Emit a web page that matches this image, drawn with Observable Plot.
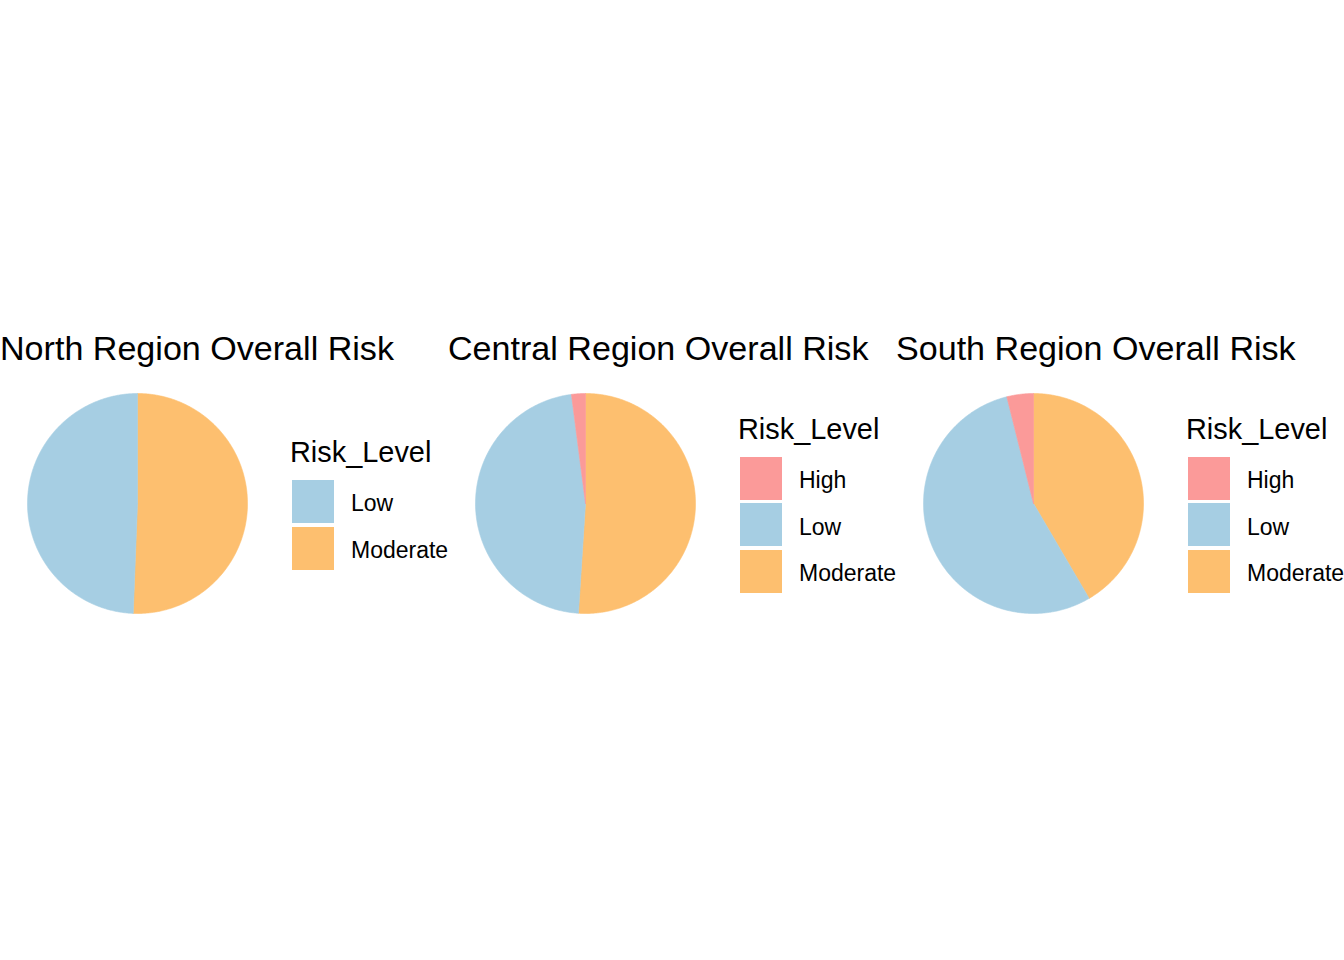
<!DOCTYPE html>
<html><head><meta charset="utf-8">
<script src="https://cdn.jsdelivr.net/npm/d3@7"></script>
<script src="https://cdn.jsdelivr.net/npm/@observablehq/plot@0.6"></script>
<style>
html,body{margin:0;padding:0;background:#fff;}
#root{position:relative;width:1344px;height:960px;overflow:hidden;font-family:"Liberation Sans",Arial,sans-serif;color:#000;}
.panel{position:absolute;top:0;width:448px;height:960px;}
.panel svg{position:absolute;left:0;top:0;}
.title{position:absolute;left:0;white-space:nowrap;font-size:34.1px;line-height:34.1px;top:331.2px;}
.ltitle{position:absolute;left:290px;white-space:nowrap;font-size:28.9px;line-height:28.9px;}
.key{position:absolute;left:292px;width:42px;height:43px;}
.label{position:absolute;left:351px;white-space:nowrap;font-size:23px;line-height:23px;}
</style>
</head><body>
<div id="root"></div>
<script>
const panelTitles = ["North Region Overall Risk", "Central Region Overall Risk", "South Region Overall Risk"];
const legendTitle = "Risk_Level";
const riskLevels = ["High", "Low", "Moderate"];
const riskColors = ["#FB9A99", "#A6CEE3", "#FDBF6F"];
const northLevels = ["Low", "Moderate"];
const northCounts = [40, 41];
const centralLevels = ["High", "Low", "Moderate"];
const centralCounts = [1, 23, 25];
const southLevels = ["High", "Low", "Moderate"];
const southCounts = [3, 42, 32];

const panels = [
  {title: panelTitles[0], levels: northLevels, counts: northCounts},
  {title: panelTitles[1], levels: centralLevels, counts: centralCounts},
  {title: panelTitles[2], levels: southLevels, counts: southCounts}
];

const PW = 448, PH = 960, CX = 137, CY = 503, R = 110;

function slicePoints(levels, counts) {
  const total = d3.sum(counts);
  const pts = [];
  let a = 0;
  // ggplot stacking: last level starts at 12 o'clock going clockwise
  for (let i = levels.length - 1; i >= 0; i--) {
    const a0 = a, a1 = a + 2 * Math.PI * counts[i] / total;
    const lvl = levels[i];
    pts.push({level: lvl, x: 0, y: 0});
    const n = Math.max(2, Math.ceil((a1 - a0) / (Math.PI / 360)));
    for (let k = 0; k <= n; k++) {
      const t = a0 + (a1 - a0) * k / n;
      pts.push({level: lvl, x: Math.sin(t), y: Math.cos(t)});
    }
    pts.push({level: lvl, x: 0, y: 0});
    a = a1;
  }
  return pts;
}

const root = document.getElementById("root");
panels.forEach((p, i) => {
  const div = document.createElement("div");
  div.className = "panel";
  div.style.left = (i * PW) + "px";
  root.appendChild(div);

  const pts = slicePoints(p.levels, p.counts);
  const chart = Plot.plot({
    width: PW, height: PH, margin: 0,
    x: {domain: [-CX / R, (PW - CX) / R], axis: null},
    y: {domain: [-(PH - CY) / R, CY / R], axis: null},
    color: {domain: riskLevels, range: riskColors},
    marks: [
      Plot.line(pts, {x: "x", y: "y", z: "level", fill: "level", stroke: "level", strokeWidth: 0.6, curve: "linear"})
    ]
  });
  div.appendChild(chart);

  const t = document.createElement("div");
  t.className = "title";
  t.textContent = p.title;
  div.appendChild(t);

  const nk = p.levels.length;
  const pitch = 46.7, kh = 43;
  const keysTop = nk === 2 ? 480 : 456.7;
  const lt = document.createElement("div");
  lt.className = "ltitle";
  lt.style.top = (keysTop - 42.2) + "px";
  lt.textContent = legendTitle;
  div.appendChild(lt);

  p.levels.forEach((lvl, j) => {
    const top = keysTop + j * pitch;
    const k = document.createElement("div");
    k.className = "key";
    k.style.top = top + "px";
    k.style.background = riskColors[riskLevels.indexOf(lvl)];
    div.appendChild(k);
    const lb = document.createElement("div");
    lb.className = "label";
    lb.style.top = (top + kh / 2 + 10.3 - 19.47) + "px";
    lb.textContent = lvl;
    div.appendChild(lb);
  });
});
</script>
</body></html>
